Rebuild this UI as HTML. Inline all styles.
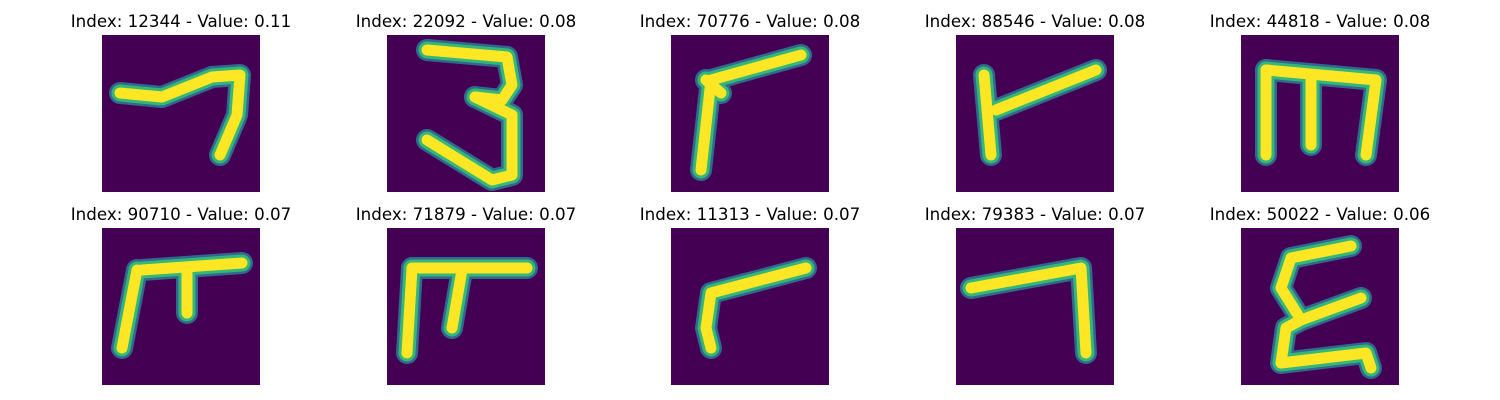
<!DOCTYPE html>
<html><head><meta charset="utf-8"><style>
html,body{margin:0;padding:0;background:#fff;}
#wrap{position:relative;width:1500px;height:400px;overflow:hidden;font-family:"DejaVu Sans","Liberation Sans",sans-serif;}
.title{position:absolute;font-size:16.7px;color:#000;text-align:center;width:300px;white-space:nowrap;line-height:20px;}
svg.img{position:absolute;}
</style></head><body>
<div id="wrap"></div>
<script>
const indices=[12344,22092,70776,88546,44818,90710,71879,11313,79383,50022];
const values=[0.11,0.08,0.08,0.08,0.08,0.07,0.07,0.07,0.07,0.06];
const strokes=[
 [[[18,58],[60,62],[110,42],[138,40],[135,80],[118,120]]],
 [[[40,15],[120,22],[125,50],[115,65],[88,62]],[[88,62],[125,80],[125,140],[105,145],[40,105]]],
 [[[130,20],[40,45],[30,135]],[[35,45],[50,58]]],
 [[[140,35],[40,75]],[[28,40],[35,120]]],
 [[[25,35],[135,45],[125,120]],[[25,35],[25,120]],[[70,40],[70,110]]],
 [[[40,42],[140,35]],[[35,42],[20,120]],[[85,45],[85,85]]],
 [[[25,40],[140,40]],[[25,40],[20,125]],[[75,42],[65,100]]],
 [[[135,40],[40,65],[35,100],[40,120]]],
 [[[15,60],[125,40],[130,125]]],
 [[[110,18],[50,30],[40,60],[60,92],[120,70]],[[60,92],[45,100],[40,135],[125,125],[130,140]]]
];
const colX=[102,387,671,956,1241],rowY=[35,228],W=158,H=157;
const wrap=document.getElementById('wrap');
const NS='http://www.w3.org/2000/svg';
indices.forEach((idx,i)=>{
 const x=colX[i%5],y=rowY[Math.floor(i/5)];
 const t=document.createElement('div');
 t.className='title';
 
 
 t.style.left=(x+W/2-150)+'px';t.style.top=(y-24)+'px';
 t.textContent='Index: '+idx+' - Value: '+values[i].toFixed(2);
 wrap.appendChild(t);
 const s=document.createElementNS(NS,'svg');
 s.setAttribute('class','img');
 
 
 s.setAttribute('width',W);s.setAttribute('height',H);
 s.style.left=x+'px';s.style.top=y+'px';
 const bg=document.createElementNS(NS,'rect');
 bg.setAttribute('width',W);bg.setAttribute('height',H);bg.setAttribute('fill','#440154');
 s.appendChild(bg);
 [['#31688e',22],['#35b779',17],['#fde725',11]].forEach(([c,w])=>{
  strokes[i].forEach(pts=>{
   const p=document.createElementNS(NS,'polyline');
   p.setAttribute('points',pts.map(q=>q.join(',')).join(' '));
   p.setAttribute('fill','none');p.setAttribute('stroke',c);p.setAttribute('stroke-width',w);
   p.setAttribute('stroke-linecap','round');p.setAttribute('stroke-linejoin','round');
   s.appendChild(p);
  });
 });
 wrap.appendChild(s);
});
</script>
</body></html>
